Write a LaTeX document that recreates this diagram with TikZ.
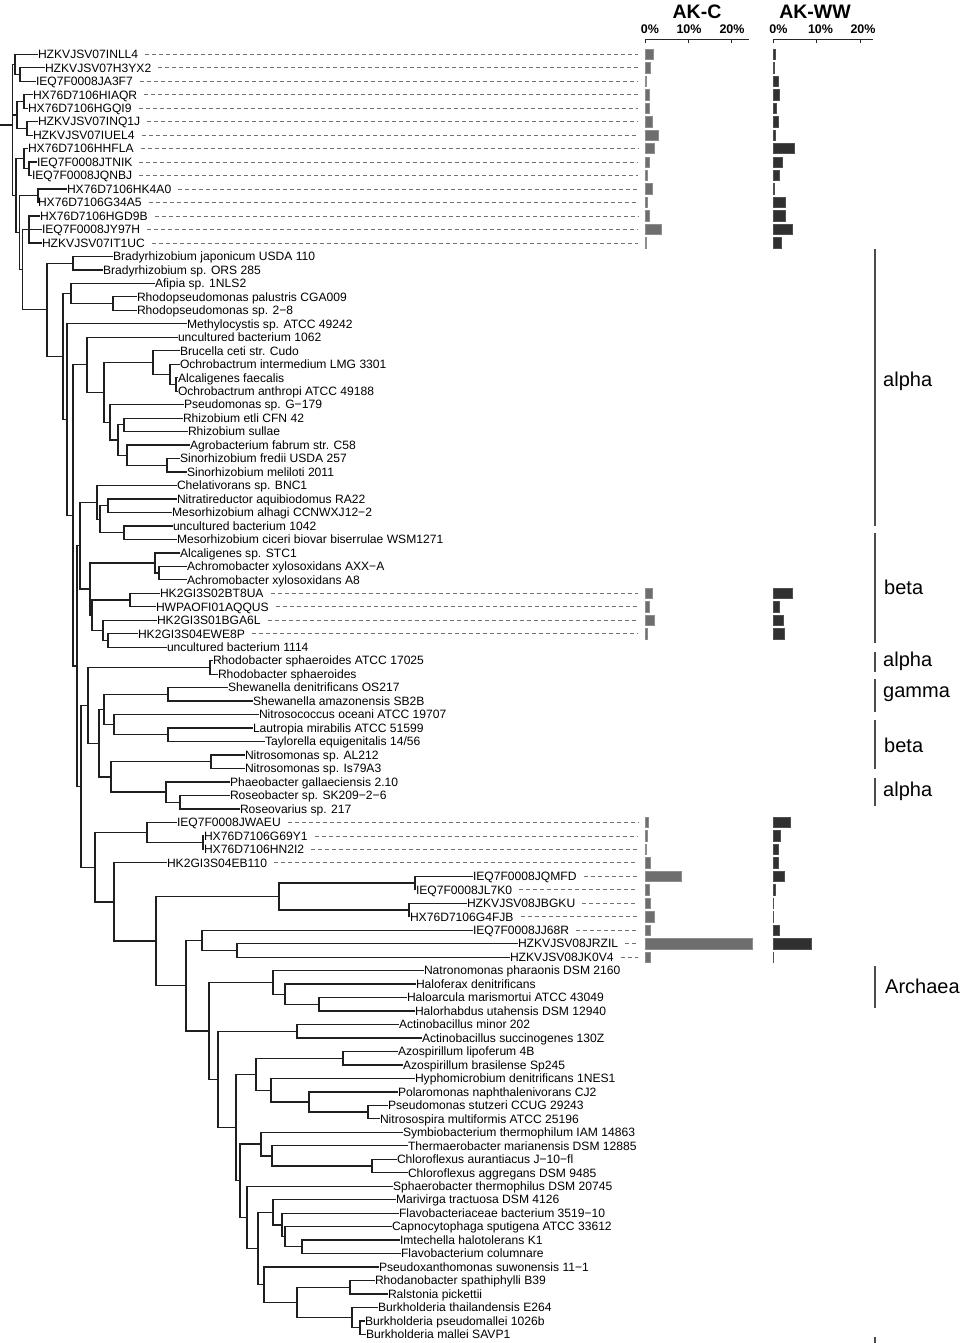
\documentclass[tikz,border=0pt]{standalone}
\usepackage{fontspec}
\setmainfont{Liberation Sans}
\usetikzlibrary{calc}
\definecolor{cfill}{HTML}{6E6E6E}
\definecolor{cdraw}{HTML}{8E8E8E}
\definecolor{wfill}{HTML}{303030}
\definecolor{wdraw}{HTML}{505050}
\newcommand\lf[3]{\coordinate (T#1) at (#2,{54.3+(#1-1)*13.475});\node[leaf] (L#1) at (T#1) {#3};}
\newcommand\cl[4]{\path let \p1=($(#3)!0.5!(#4)$) in (#2pt,\y1) coordinate (#1);\draw[br] (#1) |- (#3);\draw[br] (#1) |- (#4);}
\newcommand\clt[5]{\path let \p1=(#3),\p2=(#4),\p3=(#5) in (#2pt,{(\y1+\y2+\y3)/3}) coordinate (#1);\draw[br] (#1) |- (#3);\draw[br] (#1) |- (#4);\draw[br] (#1) |- (#5);}
\newcommand\ed[2]{\draw[br] (#1) |- (#2);}
\newcommand\dl[1]{\draw[dl] ([xshift=7pt]L#1.east) -- (T#1 -| dashend);}
\newcommand\bb[3]{\draw[cbar] (T#1 -| czero) ++(0,-5.2) rectangle ++(#2,10.4);\draw[wbar] (T#1 -| wzero) ++(0,-5.2) rectangle ++(#3,10.4);}
\begin{document}
\begin{tikzpicture}[x=1pt,y=-1pt,
  leaf/.style={anchor=west,inner sep=0pt,outer sep=0pt,text height=8.6pt,text depth=0pt,font=\fontsize{12.1}{14}\selectfont},
  br/.style={line width=1.25pt,draw=black!88},
  dl/.style={line width=0.7pt,draw=black!55,dash pattern=on 4pt off 3pt},
  cbar/.style={fill=cfill,draw=cdraw,line width=0.7pt},
  wbar/.style={fill=wfill,draw=wdraw,line width=0.7pt},
  axis/.style={line width=1pt,draw=black!85},
  ttl/.style={font=\bfseries\fontsize{19.5}{22}\selectfont,inner sep=0pt},
  tlab/.style={font=\bfseries\fontsize{12.5}{14}\selectfont,inner sep=0pt},
  grp/.style={anchor=west,inner sep=0pt,font=\fontsize{20}{24}\selectfont},
  brk/.style={line width=1.2pt,draw=black!70}]
\fill[white] (0,0) rectangle (964,1343);
\useasboundingbox (0,0) rectangle (964,1343);
\coordinate (dashend) at (638,0);
\coordinate (czero) at (645,0);
\coordinate (wzero) at (773,0);
% leaves
\lf{1}{38}{HZKVJSV07INLL4}
\lf{2}{45}{HZKVJSV07H3YX2}
\lf{3}{36}{IEQ7F0008JA3F7}
\lf{4}{33}{HX76D7106HIAQR}
\lf{5}{28}{HX76D7106HGQI9}
\lf{6}{38}{HZKVJSV07INQ1J}
\lf{7}{33}{HZKVJSV07IUEL4}
\lf{8}{28}{HX76D7106HHFLA}
\lf{9}{37}{IEQ7F0008JTNIK}
\lf{10}{32}{IEQ7F0008JQNBJ}
\lf{11}{67}{HX76D7106HK4A0}
\lf{12}{38}{HX76D7106G34A5}
\lf{13}{40}{HX76D7106HGD9B}
\lf{14}{42}{IEQ7F0008JY97H}
\lf{15}{42}{HZKVJSV07IT1UC}
\lf{16}{113}{Bradyrhizobium japonicum USDA 110}
\lf{17}{103}{Bradyrhizobium sp. ORS 285}
\lf{18}{155}{Afipia sp. 1NLS2}
\lf{19}{137}{Rhodopseudomonas palustris CGA009}
\lf{20}{137}{Rhodopseudomonas sp. 2−8}
\lf{21}{187}{Methylocystis sp. ATCC 49242}
\lf{22}{178}{uncultured bacterium 1062}
\lf{23}{180}{Brucella ceti str. Cudo}
\lf{24}{180}{Ochrobactrum intermedium LMG 3301}
\lf{25}{178}{Alcaligenes faecalis}
\lf{26}{178}{Ochrobactrum anthropi ATCC 49188}
\lf{27}{184}{Pseudomonas sp. G−179}
\lf{28}{183}{Rhizobium etli CFN 42}
\lf{29}{188}{Rhizobium sullae}
\lf{30}{190}{Agrobacterium fabrum str. C58}
\lf{31}{180}{Sinorhizobium fredii USDA 257}
\lf{32}{187}{Sinorhizobium meliloti 2011}
\lf{33}{177}{Chelativorans sp. BNC1}
\lf{34}{177}{Nitratireductor aquibiodomus RA22}
\lf{35}{172}{Mesorhizobium alhagi CCNWXJ12−2}
\lf{36}{173}{uncultured bacterium 1042}
\lf{37}{177}{Mesorhizobium ciceri biovar biserrulae WSM1271}
\lf{38}{180}{Alcaligenes sp. STC1}
\lf{39}{187}{Achromobacter xylosoxidans AXX−A}
\lf{40}{187}{Achromobacter xylosoxidans A8}
\lf{41}{160}{HK2GI3S02BT8UA}
\lf{42}{156}{HWPAOFI01AQQUS}
\lf{43}{157}{HK2GI3S01BGA6L}
\lf{44}{138}{HK2GI3S04EWE8P}
\lf{45}{167}{uncultured bacterium 1114}
\lf{46}{213}{Rhodobacter sphaeroides ATCC 17025}
\lf{47}{218}{Rhodobacter sphaeroides}
\lf{48}{228}{Shewanella denitrificans OS217}
\lf{49}{253}{Shewanella amazonensis SB2B}
\lf{50}{259}{Nitrosococcus oceani ATCC 19707}
\lf{51}{253}{Lautropia mirabilis ATCC 51599}
\lf{52}{265}{Taylorella equigenitalis 14/56}
\lf{53}{245}{Nitrosomonas sp. AL212}
\lf{54}{245}{Nitrosomonas sp. Is79A3}
\lf{55}{230}{Phaeobacter gallaeciensis 2.10}
\lf{56}{230}{Roseobacter sp. SK209−2−6}
\lf{57}{240}{Roseovarius sp. 217}
\lf{58}{177}{IEQ7F0008JWAEU}
\lf{59}{204}{HX76D7106G69Y1}
\lf{60}{204}{HX76D7106HN2I2}
\lf{61}{167}{HK2GI3S04EB110}
\lf{62}{473}{IEQ7F0008JQMFD}
\lf{63}{416}{IEQ7F0008JL7K0}
\lf{64}{467}{HZKVJSV08JBGKU}
\lf{65}{410}{HX76D7106G4FJB}
\lf{66}{473}{IEQ7F0008JJ68R}
\lf{67}{518}{HZKVJSV08JRZIL}
\lf{68}{510}{HZKVJSV08JK0V4}
\lf{69}{424}{Natronomonas pharaonis DSM 2160}
\lf{70}{416}{Haloferax denitrificans}
\lf{71}{407}{Haloarcula marismortui ATCC 43049}
\lf{72}{415}{Halorhabdus utahensis DSM 12940}
\lf{73}{399}{Actinobacillus minor 202}
\lf{74}{422}{Actinobacillus succinogenes 130Z}
\lf{75}{398}{Azospirillum lipoferum 4B}
\lf{76}{403}{Azospirillum brasilense Sp245}
\lf{77}{415}{Hyphomicrobium denitrificans 1NES1}
\lf{78}{398}{Polaromonas naphthalenivorans CJ2}
\lf{79}{388}{Pseudomonas stutzeri CCUG 29243}
\lf{80}{380}{Nitrosospira multiformis ATCC 25196}
\lf{81}{403}{Symbiobacterium thermophilum IAM 14863}
\lf{82}{408}{Thermaerobacter marianensis DSM 12885}
\lf{83}{397}{Chloroflexus aurantiacus J−10−fl}
\lf{84}{408}{Chloroflexus aggregans DSM 9485}
\lf{85}{393}{Sphaerobacter thermophilus DSM 20745}
\lf{86}{396}{Marivirga tractuosa DSM 4126}
\lf{87}{399}{Flavobacteriaceae bacterium 3519−10}
\lf{88}{392}{Capnocytophaga sputigena ATCC 33612}
\lf{89}{400}{Imtechella halotolerans K1}
\lf{90}{401}{Flavobacterium columnare}
\lf{91}{379}{Pseudoxanthomonas suwonensis 11−1}
\lf{92}{375}{Rhodanobacter spathiphylli B39}
\lf{93}{388}{Ralstonia pickettii}
\lf{94}{378}{Burkholderia thailandensis E264}
\lf{95}{365}{Burkholderia pseudomallei 1026b}
\lf{96}{366}{Burkholderia mallei SAVP1}
% query cluster top
\cl{q23}{20}{T2}{T3}
\cl{q123}{15}{T1}{q23}
\cl{q45}{24}{T4}{T5}
\cl{q67}{27}{T6}{T7}
\cl{q4567}{17}{q45}{q67}
\cl{q910}{29}{T9}{T10}
\cl{q8910}{24}{T8}{q910}
\cl{q1112}{38}{T11}{T12}
\cl{q1315}{29}{T13}{T15}\ed{q1315}{T14}
% alpha etc
\cl{brady}{73}{T16}{T17}
\cl{rp}{113}{T19}{T20}
\cl{afrp}{71}{T18}{rp}
\cl{o2526}{176}{T25}{T26}
\cl{o24}{170}{T24}{o2526}
\cl{bru}{153}{T23}{o24}
\cl{rz2829}{124}{T28}{T29}
\cl{s3132}{167}{T31}{T32}
\cl{ag}{127}{T30}{s3132}
\cl{rzag}{118}{rz2829}{ag}
\cl{ps}{110}{T27}{rzag}
\cl{brps}{104}{bru}{ps}
\cl{rhiz}{87}{T22}{brps}
\cl{m3435}{108}{T34}{T35}
\cl{m3637}{124}{T36}{T37}
\cl{m3437}{100}{m3435}{m3637}
\cl{chel}{97}{T33}{m3437}
\cl{a3940}{159}{T39}{T40}
\cl{alc}{155}{T38}{a3940}
\cl{h4142}{130}{T41}{T42}
\cl{h4445}{108}{T44}{T45}
\cl{h43}{103}{T43}{h4445}
\cl{hk}{92}{h4142}{h43}
\cl{alchk}{90}{alc}{hk}
\cl{chelhk}{80}{chel}{alchk}
\cl{rhodob}{210}{T46}{T47}
\cl{sh}{168}{T48}{T49}
\cl{lt}{168}{T51}{T52}
\cl{nlt}{114}{T50}{lt}
\cl{shn}{104}{sh}{nlt}
\cl{ns}{211}{T53}{T54}
\cl{r5657}{180}{T56}{T57}
\cl{phae}{166}{T55}{r5657}
\cl{nsph}{111}{ns}{phae}
\cl{X}{99}{shn}{nsph}
\cl{rhX}{88}{rhodob}{X}
% lower part
\cl{h5960}{203}{T59}{T60}
\cl{h58}{147}{T58}{h5960}
\cl{j6263}{415}{T62}{T63}
\cl{j6465}{409}{T64}{T65}
\cl{jtop}{279}{j6263}{j6465}
\cl{j6768}{237}{T67}{T68}
\cl{j66}{202}{T66}{j6768}
\cl{arc7172}{319}{T71}{T72}
\cl{arc70}{285}{T70}{arc7172}
\cl{arc}{273}{T69}{arc70}
\cl{act}{297}{T73}{T74}
\cl{azo}{343}{T75}{T76}
\cl{p7980}{368}{T79}{T80}
\cl{pol}{309}{T78}{p7980}
\cl{hyp}{271}{T77}{pol}
\cl{J}{256}{azo}{hyp}
\cl{chl}{372}{T83}{T84}
\cl{D}{272}{T82}{chl}
\cl{F}{261}{T81}{D}
\cl{B4}{302}{T89}{T90}
\cl{B3}{285}{T88}{B4}
\cl{B2}{282}{T87}{B3}
\cl{B}{273}{T86}{B2}
\cl{r9293}{350}{T92}{T93}
\cl{b9596}{360}{T95}{T96}
\cl{b94}{352}{T94}{b9596}
\cl{A2}{297}{r9293}{b94}
\cl{A}{264}{T91}{A2}
\cl{C}{258}{B}{A}
\cl{E}{247}{T85}{C}
\cl{I}{240}{F}{E}
\cl{K}{236}{J}{I}
\cl{L}{218}{act}{K}
\cl{M}{209}{arc}{L}
\cl{N}{186}{j66}{M}
\cl{O}{156}{jtop}{N}
\cl{P}{114}{T61}{O}
\cl{Q}{95}{h58}{P}
\cl{Z}{81}{rhX}{Q}
\cl{W}{77}{chelhk}{Z}
\cl{V}{73}{rhiz}{W}
\cl{U}{67}{T21}{V}
\cl{Tn}{63}{afrp}{U}
\cl{S}{47}{brady}{Tn}
% root region
\cl{G}{22.5}{q1315}{S}
\cl{Fq}{19.5}{q1112}{G}
\cl{R2}{16}{q8910}{Fq}
\clt{R}{12.5}{q123}{q4567}{R2}
\draw[br] (R) -- ++(-12.5,0);
% dashed guide lines
\foreach \i in {1,...,15,41,42,43,44,58,59,60,61,62,63,64,65,66,67,68} {\dl{\i}}
% bars
\bb{1}{8.3}{2}
\bb{2}{5.7}{1.7}
\bb{3}{1.3}{5.7}
\bb{4}{4.7}{6.7}
\bb{5}{4.7}{3}
\bb{6}{7}{5.3}
\bb{7}{13}{2}
\bb{8}{9.3}{21.7}
\bb{9}{4.7}{9.3}
\bb{10}{2.7}{6.7}
\bb{11}{7}{1.3}
\bb{12}{2.3}{12.7}
\bb{13}{4}{12}
\bb{14}{16.7}{19}
\bb{15}{1.3}{8.3}
\bb{41}{7}{19}
\bb{42}{4}{6}
\bb{43}{9.7}{10.3}
\bb{44}{2.7}{11}
\bb{58}{3.3}{17.7}
\bb{59}{2.7}{7.7}
\bb{60}{1}{5.3}
\bb{61}{5.3}{5}
\bb{62}{36.7}{11}
\bb{63}{4.3}{2}
\bb{64}{5.7}{0.6}
\bb{65}{9.7}{0.3}
\bb{66}{5.7}{6}
\bb{67}{107.3}{38.3}
\bb{68}{5}{0.3}
% axes
\draw[axis] (645,39.3) -- (749,39.3);
\foreach \t in {645,688.3,731.7} {\draw[axis] (\t,39.3) -- (\t,43.5);}
\node[tlab] at (650,29) {0\%};
\node[tlab] at (689,29) {10\%};
\node[tlab] at (732,29) {20\%};
\node[ttl] at (697,12) {AK-C};
\draw[axis] (773,39.3) -- (873,39.3);
\foreach \t in {773,816,860} {\draw[axis] (\t,39.3) -- (\t,43.5);}
\node[tlab] at (778.5,29) {0\%};
\node[tlab] at (820.5,29) {10\%};
\node[tlab] at (863,29) {20\%};
\node[ttl] at (815,12) {AK-WW};
% group brackets
\draw[brk] (875,249) -- (875,526);
\node[grp] (g1) at (883,381) {alpha};
\draw[brk] (875,533) -- (875,643);
\node[grp] (g2) at (884,587) {beta};
\draw[brk] (875,652) -- (875,672);
\node[grp] (g3) at (883,661) {alpha};
\draw[brk] (875,679) -- (875,712);
\node[grp] (g4) at (883,694) {gamma};
\draw[brk] (875,720) -- (875,769);
\node[grp] (g5) at (884,745) {beta};
\draw[brk] (875,778) -- (875,806);
\node[grp] (g6) at (883,791) {alpha};
\draw[brk] (875,966) -- (875,1008);
\node[grp] (g7) at (885,986) {Archaea};
\draw[brk] (875,1337) -- (875,1343);
\end{tikzpicture}
\end{document}
